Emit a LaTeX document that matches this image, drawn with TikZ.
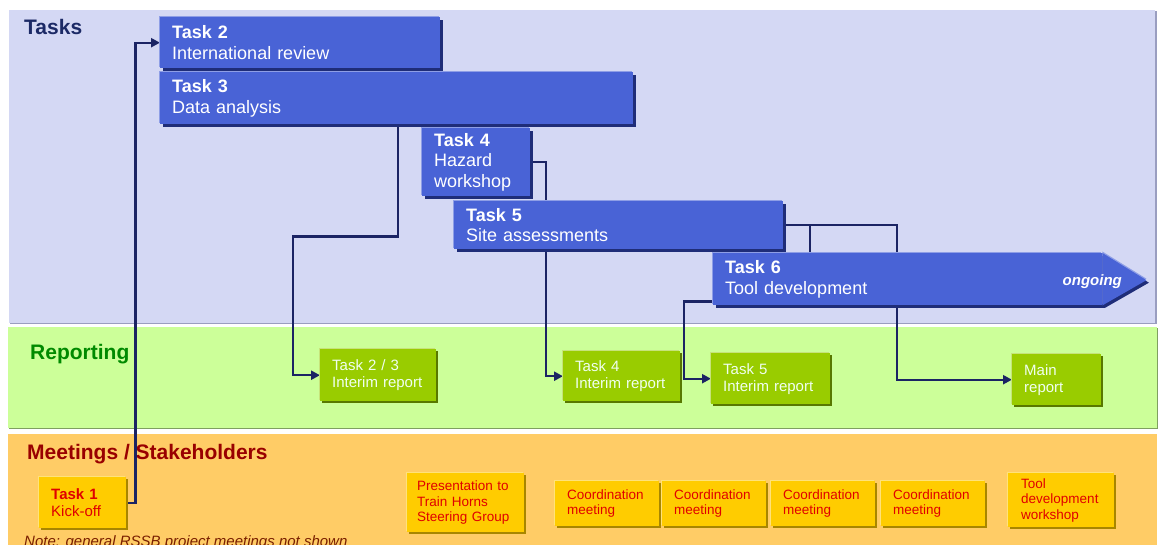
\documentclass[tikz,border=0pt]{standalone}
\usepackage{fontspec}
\setmainfont{Liberation Sans}
\usetikzlibrary{arrows.meta}

\definecolor{taskband}{HTML}{D4D8F4}
\definecolor{taskbandline}{HTML}{9A9EC0}
\definecolor{repband}{HTML}{CCFF99}
\definecolor{repbandline}{HTML}{7FA060}
\definecolor{meetband}{HTML}{FFCC66}
\definecolor{taskblue}{HTML}{4963D6}
\definecolor{taskhi}{HTML}{8E9EE6}
\definecolor{taskdark}{HTML}{1F2D78}
\definecolor{repgreen}{HTML}{99CC00}
\definecolor{rephi}{HTML}{C6E37A}
\definecolor{repdark}{HTML}{587800}
\definecolor{meetyellow}{HTML}{FFCC00}
\definecolor{meethi}{HTML}{FFE27A}
\definecolor{meetdark}{HTML}{A88600}
\definecolor{meetred}{HTML}{E00000}
\definecolor{linknavy}{HTML}{1B2464}
\definecolor{tasktitle}{HTML}{1C2A66}
\definecolor{reptitle}{HTML}{008A00}
\definecolor{meettitle}{HTML}{990000}
\definecolor{notered}{HTML}{7A1F00}

\def\inset{12pt}

\pgfdeclarelayer{bands}
\pgfdeclarelayer{links}
\pgfsetlayers{bands,links,main}

\begin{document}
\begin{tikzpicture}[x=1pt,y=-1pt]
    \tikzstyle{box}=[rectangle,anchor=north west,align=left,inner xsep=\inset,inner ysep=0pt]
    \tikzstyle{task}=[box,fill=taskblue,text=white,font=\fontsize{18}{20.5}\selectfont,
        preaction={fill=taskhi,transform canvas={xshift=-1.5pt,yshift=1.5pt}},
        preaction={fill=taskdark,transform canvas={xshift=2.5pt,yshift=-2.5pt}}]
    \tikzstyle{report}=[box,fill=repgreen,text=white!94!green,font=\fontsize{15}{17}\selectfont,
        preaction={fill=rephi,transform canvas={xshift=-1.5pt,yshift=1.5pt}},
        preaction={fill=repdark,transform canvas={xshift=2pt,yshift=-2pt}}]
    \tikzstyle{meeting}=[box,fill=meetyellow,text=meetred,font=\fontsize{13.5}{15.5}\selectfont,
        preaction={fill=meethi,transform canvas={xshift=-1.5pt,yshift=1.5pt}},
        preaction={fill=meetdark,transform canvas={xshift=2pt,yshift=-2pt}}]
    \tikzstyle{section}=[anchor=base west,inner sep=0pt,font=\fontsize{21}{24}\selectfont\bfseries]
    \tikzstyle{link}=[draw=linknavy,line width=2.3pt,-{Triangle[length=9pt,width=9pt]}]
    \tikzstyle{branch}=[draw=linknavy,line width=2.3pt]

    \useasboundingbox (0,0) rectangle (1158,544);

    % Draw the three bands and their titles
    \begin{pgfonlayer}{bands}
        \fill[taskbandline] (10,11) rectangle (1156.5,324);
        \fill[taskband] (9,10) rectangle (1155,322.5);
        \fill[repbandline] (9,328) rectangle (1157.5,429);
        \fill[repband] (8,327) rectangle (1156.5,427.5);
        \fill[meetband] (8,434) rectangle (1157,550);
        \node[section,text=tasktitle] (tasks) at (24,34) {Tasks};
        \node[section,text=reptitle] (reporting) at (30,359) {Reporting};
        \node[section,text=meettitle] (meetings) at (27,459) {Meetings / Stakeholders};
        \node[anchor=base west,inner sep=0pt,text=notered,font=\fontsize{15}{17}\selectfont\itshape]
            (note) at (24,546.5) {Note: general RSSB project meetings not shown};
    \end{pgfonlayer}

    % Draw the task bars
    \node[task,text width=256pt,minimum height=51pt] (T2) at (160,17) {\textbf{Task 2}\\International review};
    \node[task,text width=449pt,minimum height=52pt] (T3) at (160,72) {\textbf{Task 3}\\Data analysis};
    \node[task,text width=84pt,minimum height=68pt] (T4) at (422,128) {\textbf{Task 4}\\Hazard\\workshop};
    \node[task,text width=305pt,minimum height=48pt] (T5) at (454,201) {\textbf{Task 5}\\Site assessments};
    \node[task,text width=365pt,minimum height=52pt] (T6) at (713,253) {\textbf{Task 6}\\Tool development};
    \fill[taskblue,preaction={fill=taskhi,transform canvas={yshift=1.5pt}},
        preaction={fill=taskdark,transform canvas={xshift=2.5pt,yshift=-2.5pt}}]
        (T6.north east) -- ([xshift=44pt,yshift=-1pt]T6.east) -- (T6.south east) -- cycle;
    \node[anchor=base east,inner sep=0pt,text=white,font=\fontsize{15}{17}\selectfont\bfseries\itshape]
        (ongoing) at (1122,285) {ongoing};

    % Draw the reports
    \node[report,text width=92pt,minimum height=52pt] (R23) at (320,349) {Task 2 / 3\\Interim report};
    \node[report,text width=93pt,minimum height=50pt] (R4) at (563,351) {Task 4\\Interim report};
    \node[report,text width=95pt,minimum height=51pt] (R5) at (711,353) {Task 5\\Interim report};
    \node[report,text width=65pt,minimum height=51pt] (MR) at (1012,354) {Main\\report};

    % Draw the meetings
    \node[meeting,text width=63pt,minimum height=51pt,font=\fontsize{15}{17}\selectfont] (K1) at (39,477) {\textbf{Task 1}\\Kick-off};
    \node[meeting,text width=97pt,inner xsep=10pt,minimum height=59pt] (PS) at (407,473) {Presentation to\\Train Horns\\Steering Group};
    \foreach \name / \x in {1/555,2/662,3/771,4/881}
        \node[meeting,text width=80pt,minimum height=45pt] (C-\name) at (\x,481) {Coordination\\meeting};
    \node[meeting,text width=80pt,inner xsep=13pt,minimum height=54pt] (TW) at (1008,473) {Tool\\development\\workshop};

    % Connect tasks and reports
    \begin{pgfonlayer}{links}
        \draw[link] (K1.east) -- ++(9,0) |- (T2.west);
        \draw[link] ([xshift=238pt]T3.south west) -- ++(0,112) -| ([xshift=-27pt]R23.west) -- (R23.west);
        \draw[link] (T4.east) -| ([xshift=-17pt]R4.west) -- (R4.west);
        \draw[branch] (T5.east) -| ([xshift=97pt]T6.north west);
        \draw[link] (T5.east) -| ([xshift=-115pt]MR.west) -- (MR.west);
        \draw[link] ([yshift=4pt]T6.south west) -| ([xshift=-27pt]R5.west) -- (R5.west);
    \end{pgfonlayer}
\end{tikzpicture}
\end{document}
